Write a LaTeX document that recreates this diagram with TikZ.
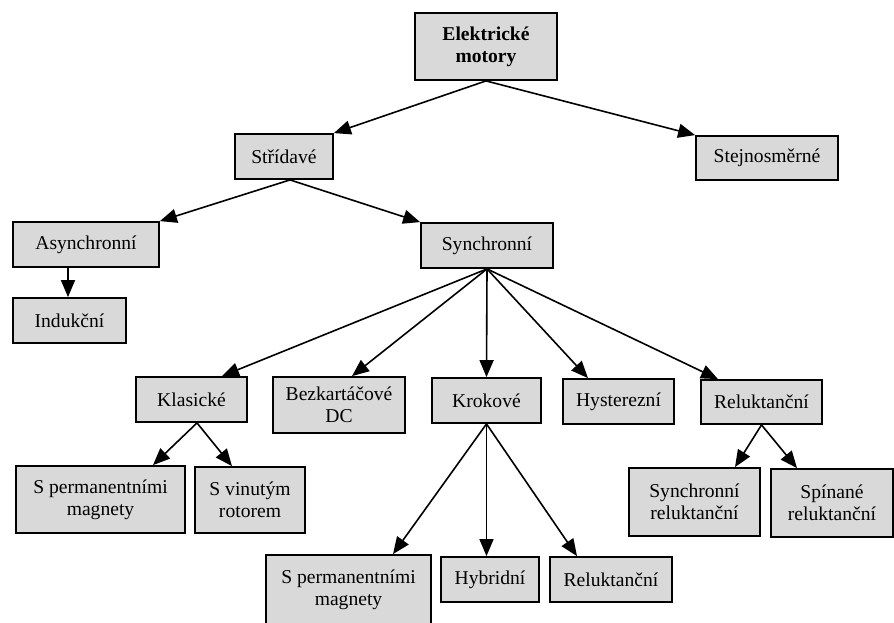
\documentclass[tikz,border=0pt]{standalone}
\usepackage{fontspec}
\setmainfont{Liberation Serif}
\usetikzlibrary{arrows.meta,calc}
\begin{document}
\begin{tikzpicture}[x=0.5pt,y=-0.5pt,
        box/.style={draw,line width=0.9pt,fill=black!15,align=center,inner sep=0pt,
            font=\fontsize{9.8pt}{11pt}\selectfont},
        arr/.style={line width=0.8pt,-{Triangle[length=8.5pt,width=7pt]}}]
    \useasboundingbox (0,0) rectangle (894,622);
    \node[box,minimum width=71pt,minimum height=33.5pt,
        font=\fontsize{9.8pt}{11pt}\selectfont\bfseries] (em) at (486,46.5) {Elektrické\\motory};
    \node[box,minimum width=49pt,minimum height=22.5pt] (str) at (284,156.5) {Střídavé};
    \node[box,minimum width=71pt,minimum height=22pt] (stj) at (767,158) {Stejnosměrné};
    \node[box,minimum width=73pt,minimum height=22.5pt] (asy) at (86,244.5) {Asynchronní};
    \node[box,minimum width=56.5pt,minimum height=22.5pt] (ind) at (69.5,320.5) {Indukční};
    \node[box,minimum width=66pt,minimum height=22.5pt] (syn) at (487,245.5) {Synchronní};
    \node[box,minimum width=55.5pt,minimum height=22.5pt] (kla) at (191.5,399.5) {Klasické};
    \node[box,minimum width=66pt,minimum height=28pt] (bez) at (339,405) {Bezkartáčové\\DC};
    \node[box,minimum width=54.5pt,minimum height=22.5pt] (kro) at (486.5,400.5) {Krokové};
    \node[box,minimum width=55.5pt,minimum height=22.5pt] (hys) at (618.5,401.5) {Hysterezní};
    \node[box,minimum width=60.5pt,minimum height=22pt] (rel) at (761.5,402) {Reluktanční};
    \node[box,minimum width=84.5pt,minimum height=33.5pt] (spm1) at (100.5,499.5) {S permanentními\\magnety};
    \node[box,minimum width=55pt,minimum height=33pt] (svr) at (250,500) {S vinutým\\rotorem};
    \node[box,minimum width=65.5pt,minimum height=34pt] (srl) at (694.5,502) {Synchronní\\reluktanční};
    \node[box,minimum width=61pt,minimum height=34pt] (spr) at (832,503) {Spínané\\reluktanční};
    \node[box,minimum width=82.5pt,minimum height=35pt] (spm2) at (348.5,590) {S permanentními\\magnety};
    \node[box,minimum width=49pt,minimum height=22.5pt] (hyb) at (490,579.5) {Hybridní};
    \node[box,minimum width=61pt,minimum height=22.5pt] (rlk) at (611,579.5) {Reluktanční};
    \draw[arr] (em.south) -- (str.north east);
    \draw[arr] (em.south) -- (stj.north west);
    \draw[arr] ($(str.south)+(6,0)$) -- (asy.north east);
    \draw[arr] ($(str.south)+(6,0)$) -- (syn.north west);
    \draw[arr] ($(asy.south)+(-18,0)$) -- ($(ind.north)+(-1.5,0)$);
    \draw[arr] (syn.south) -- ($(kla.north)+(30.5,0)$);
    \draw[arr] (syn.south) -- ($(bez.north)+(13,0)$);
    \draw[arr] (syn.south) -- (kro.north);
    \draw[arr] (syn.south) -- ($(hys.north)+(-30.5,0)$);
    \draw[arr] (syn.south) -- ($(rel.north)+(-43.5,0)$);
    \draw[arr] ($(kla.south)+(5.5,0)$) -- ($(spm1.north)+(52.5,0)$);
    \draw[arr] ($(kla.south)+(5.5,0)$) -- ($(svr.north)+(-18,0)$);
    \draw[arr] (kro.south) -- ($(spm2.north)+(44.5,0)$);
    \draw[arr] (kro.south) -- (kro.south |- hyb.north);
    \draw[arr] (kro.south) -- ($(rlk.north)+(-34,0)$);
    \draw[arr] (rel.south) -- ($(srl.north)+(40.5,0)$);
    \draw[arr] (rel.south) -- ($(spr.north)+(-35,0)$);
\end{tikzpicture}
\end{document}
